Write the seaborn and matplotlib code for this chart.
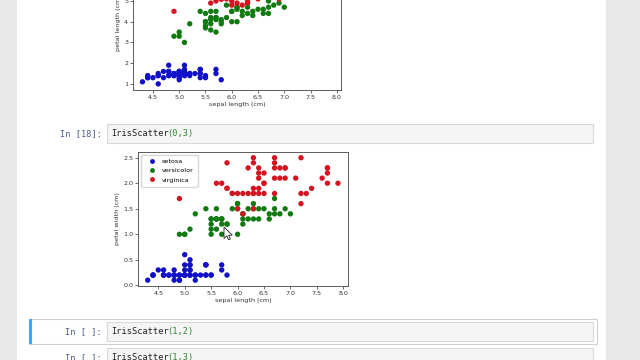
import numpy as np
import pandas as pd
import seaborn as sns
import matplotlib.pyplot as plt
from matplotlib.patches import Rectangle, Polygon

# --- iris data (sepal length, petal length, petal width) ---
SPECIES = ["setosa", "versicolor", "virginica"]

sepal_length_setosa = [5.1, 4.9, 4.7, 4.6, 5.0, 5.4, 4.6, 5.0, 4.4, 4.9, 5.4, 4.8, 4.8, 4.3, 5.8, 5.7, 5.4,
                       5.1, 5.7, 5.1, 5.4, 5.1, 4.6, 5.1, 4.8, 5.0, 5.0, 5.2, 5.2, 4.7, 4.8, 5.4, 5.2, 5.5,
                       4.9, 5.0, 5.5, 4.9, 4.4, 5.1, 5.0, 4.5, 4.4, 5.0, 5.1, 4.8, 5.1, 4.6, 5.3, 5.0]
petal_length_setosa = [1.4, 1.4, 1.3, 1.5, 1.4, 1.7, 1.4, 1.5, 1.4, 1.5, 1.5, 1.6, 1.4, 1.1, 1.2, 1.5, 1.3,
                       1.4, 1.7, 1.5, 1.7, 1.5, 1.0, 1.7, 1.9, 1.6, 1.6, 1.5, 1.4, 1.6, 1.6, 1.5, 1.5, 1.4,
                       1.5, 1.2, 1.3, 1.4, 1.3, 1.5, 1.3, 1.3, 1.3, 1.6, 1.9, 1.4, 1.6, 1.4, 1.5, 1.4]
petal_width_setosa = [0.2, 0.2, 0.2, 0.2, 0.2, 0.4, 0.3, 0.2, 0.2, 0.1, 0.2, 0.2, 0.1, 0.1, 0.2, 0.4, 0.4,
                      0.3, 0.3, 0.3, 0.2, 0.4, 0.2, 0.5, 0.2, 0.2, 0.4, 0.2, 0.2, 0.2, 0.2, 0.4, 0.1, 0.2,
                      0.2, 0.2, 0.2, 0.1, 0.2, 0.2, 0.3, 0.3, 0.2, 0.6, 0.4, 0.3, 0.2, 0.2, 0.2, 0.2]

sepal_length_versicolor = [7.0, 6.4, 6.9, 5.5, 6.5, 5.7, 6.3, 4.9, 6.6, 5.2, 5.0, 5.9, 6.0, 6.1, 5.6, 6.7, 5.6,
                           5.8, 6.2, 5.6, 5.9, 6.1, 6.3, 6.1, 6.4, 6.6, 6.8, 6.7, 6.0, 5.7, 5.5, 5.5, 5.8, 6.0,
                           5.4, 6.0, 6.7, 6.3, 5.6, 5.5, 5.5, 6.1, 5.8, 5.0, 5.6, 5.7, 5.7, 6.2, 5.1, 5.7]
petal_length_versicolor = [4.7, 4.5, 4.9, 4.0, 4.6, 4.5, 4.7, 3.3, 4.6, 3.9, 3.5, 4.2, 4.0, 4.7, 3.6, 4.4, 4.5,
                           4.1, 4.5, 3.9, 4.8, 4.0, 4.9, 4.7, 4.3, 4.4, 4.8, 5.0, 4.5, 3.5, 3.8, 3.7, 3.9, 5.1,
                           4.5, 4.5, 4.7, 4.4, 4.1, 4.0, 4.4, 4.6, 4.0, 3.3, 4.2, 4.2, 4.2, 4.3, 3.0, 4.1]
petal_width_versicolor = [1.4, 1.5, 1.5, 1.3, 1.5, 1.3, 1.6, 1.0, 1.3, 1.4, 1.0, 1.5, 1.0, 1.4, 1.3, 1.4, 1.5,
                          1.0, 1.5, 1.1, 1.8, 1.3, 1.5, 1.2, 1.3, 1.4, 1.4, 1.7, 1.5, 1.0, 1.1, 1.0, 1.2, 1.6,
                          1.5, 1.6, 1.5, 1.3, 1.3, 1.3, 1.2, 1.4, 1.2, 1.0, 1.3, 1.2, 1.3, 1.3, 1.1, 1.3]

sepal_length_virginica = [6.3, 5.8, 7.1, 6.3, 6.5, 7.6, 4.9, 7.3, 6.7, 7.2, 6.5, 6.4, 6.8, 5.7, 5.8, 6.4, 6.5,
                          7.7, 7.7, 6.0, 6.9, 5.6, 7.7, 6.3, 6.7, 7.2, 6.2, 6.1, 6.4, 7.2, 7.4, 7.9, 6.4, 6.3,
                          6.1, 7.7, 6.3, 6.4, 6.0, 6.9, 6.7, 6.9, 5.8, 6.8, 6.7, 6.7, 6.3, 6.5, 6.2, 5.9]
petal_length_virginica = [6.0, 5.1, 5.9, 5.6, 5.8, 6.6, 4.5, 6.3, 5.8, 6.1, 5.1, 5.3, 5.5, 5.0, 5.1, 5.3, 5.5,
                          6.7, 6.9, 5.0, 5.7, 4.9, 6.7, 4.9, 5.7, 6.0, 4.8, 4.9, 5.6, 5.8, 6.1, 6.4, 5.6, 5.1,
                          5.6, 6.1, 5.6, 5.5, 4.8, 5.4, 5.6, 5.1, 5.1, 5.9, 5.7, 5.2, 5.0, 5.2, 5.4, 5.1]
petal_width_virginica = [2.5, 1.9, 2.1, 1.8, 2.2, 2.1, 1.7, 1.8, 1.8, 2.5, 2.0, 1.9, 2.1, 2.0, 2.4, 2.3, 1.8,
                         2.2, 2.3, 1.5, 2.3, 2.0, 2.0, 1.8, 2.1, 1.8, 1.8, 1.8, 2.1, 1.6, 1.9, 2.0, 2.2, 1.5,
                         1.4, 2.3, 2.4, 1.8, 1.8, 2.1, 2.4, 2.3, 1.9, 2.3, 2.5, 2.3, 1.9, 2.0, 2.3, 1.8]

X_TICKS = [4.5, 5.0, 5.5, 6.0, 6.5, 7.0, 7.5, 8.0]
Y_TICKS_LENGTH = [1, 2, 3, 4, 5, 6, 7]
Y_TICKS_WIDTH = [0.0, 0.5, 1.0, 1.5, 2.0, 2.5]

PALETTE = {"setosa": "#1010c8", "versicolor": "#107a10", "virginica": "#d41420"}

df = pd.DataFrame({
    "sepal length (cm)": sepal_length_setosa + sepal_length_versicolor + sepal_length_virginica,
    "petal length (cm)": petal_length_setosa + petal_length_versicolor + petal_length_virginica,
    "petal width (cm)": petal_width_setosa + petal_width_versicolor + petal_width_virginica,
    "species": ["setosa"] * 50 + ["versicolor"] * 50 + ["virginica"] * 50,
})

W, H = 640, 360
FS = 4.6


def fx(x):
    return x / W


def fy(y):
    return 1 - y / H


def px_axes(left, top, right, bottom):
    return [fx(left), fy(bottom), (right - left) / W, (bottom - top) / H]


def iris_scatter(ax, ycol, yticks, legend):
    sns.scatterplot(data=df, x="sepal length (cm)", y=ycol, hue="species", hue_order=SPECIES,
                    palette=PALETTE, s=15, linewidth=0, ax=ax, legend=legend)
    ax.set_xticks(X_TICKS)
    ax.set_yticks(yticks)
    ax.tick_params(labelsize=FS, length=2, width=0.5, pad=1.5, colors="#333333")
    ax.set_xlabel("sepal length (cm)", fontsize=FS, labelpad=1.5, color="#333333")
    ax.set_ylabel(ycol, fontsize=FS, labelpad=2.5, color="#333333")
    for sp in ax.spines.values():
        sp.set_color("#444444")
        sp.set_linewidth(0.6)
    if legend:
        handles, labels = ax.get_legend_handles_labels()
        ax.legend(handles, labels, loc="upper left", fontsize=FS, markerscale=0.9,
                  handletextpad=0.6, borderpad=0.6, labelspacing=0.6, frameon=True)


fig = plt.figure(figsize=(6.4, 3.6), dpi=100)
fig.patch.set_facecolor("#e8e8e8")

# notebook page
fig.patches.append(Rectangle((fx(17), 0), (606 - 17) / W, 1, transform=fig.transFigure,
                             facecolor="white", edgecolor="none", zorder=-2))

# upper plot (cut off at the top)
ax1 = fig.add_axes(px_axes(133, -44.5, 341, 90))
iris_scatter(ax1, "petal length (cm)", Y_TICKS_LENGTH, False)

# lower plot
ax2 = fig.add_axes(px_axes(138.2, 151.6, 347.5, 286.3))
iris_scatter(ax2, "petal width (cm)", Y_TICKS_WIDTH, True)


def code_cell(y_top, y_bot, prompt, func, args):
    fig.patches.append(Rectangle((fx(107), fy(y_bot)), (593 - 107) / W, (y_bot - y_top) / H,
                                 transform=fig.transFigure, facecolor="#f5f5f5",
                                 edgecolor="#d8d8d8", linewidth=0.8, zorder=1))
    yc = fy(y_top + 9.5)
    fig.text(fx(102), yc, prompt, ha="right", va="center", fontsize=6.2,
             family="DejaVu Sans Mono", color="#4a5a90")
    fig.text(fx(111), yc, func, ha="left", va="center", fontsize=6.2,
             family="DejaVu Sans Mono", color="#222222")
    fig.text(fx(111 + 5.14 * len(func)), yc, args, ha="left", va="center", fontsize=6.2,
             family="DejaVu Sans Mono", color="#2a8a2a")


code_cell(124.3, 143.3, "In [18]:", "IrisScatter", "(0,3)")

# selected cell frame with blue bar
fig.patches.append(Rectangle((fx(29), fy(343.5)), (597 - 29) / W, (343.5 - 319) / H,
                             transform=fig.transFigure, facecolor="white",
                             edgecolor="#cfcfcf", linewidth=0.8, zorder=-1))
fig.patches.append(Rectangle((fx(29), fy(343.5)), 3 / W, (343.5 - 319) / H,
                             transform=fig.transFigure, facecolor="#42a5f5",
                             edgecolor="none", zorder=-0.5))
code_cell(322.3, 341, "In [ ]:", "IrisScatter", "(1,2)")
code_cell(348.3, 367, "In [ ]:", "IrisScatter", "(1,3)")

# mouse pointer
cur = np.array([(0, 0), (0, 11.5), (2.8, 8.8), (4.6, 12.8), (6.4, 12.0), (4.6, 8.2), (8.3, 8.2)])
cur = [(fx(224 + cx), fy(227 + cy)) for cx, cy in cur]
fig.patches.append(Polygon(cur, closed=True, transform=fig.transFigure, facecolor="white",
                           edgecolor="#222222", linewidth=0.6, zorder=10))

fig.savefig("out.png", dpi=100)
